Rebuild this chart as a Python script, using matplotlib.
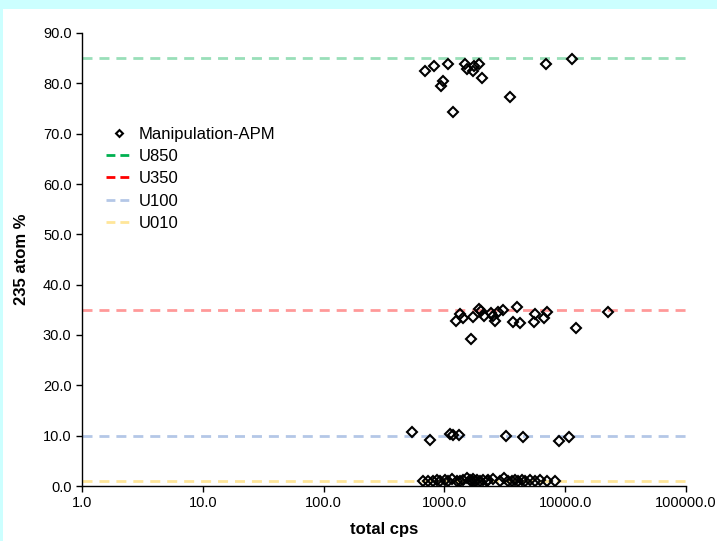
import numpy as np
import matplotlib.pyplot as plt
from matplotlib.lines import Line2D
from matplotlib.patches import Rectangle
from matplotlib.ticker import FixedLocator, FuncFormatter, NullLocator

plt.rcParams['font.family'] = ['Liberation Sans', 'DejaVu Sans']

# measured points: total cps vs 235 atom %
cps_850 = [691, 825, 1077, 979, 943, 1172, 1482, 1549, 1716, 1758, 1944, 2061,
           3493, 6900, 11320]
pct_850 = [82.5, 83.4, 83.9, 80.5, 79.5, 74.4, 83.9, 82.9, 82.5, 83.4, 83.8, 81.1,
           77.2, 83.8, 84.8]

cps_350 = [1247, 1346, 1418, 1651, 1716, 1933, 2020, 2126, 2417, 2510, 2624, 2763,
           3039, 3718, 4014, 4200, 5550, 5623, 6678, 7030, 12280, 22490]
pct_350 = [32.8, 34.1, 33.3, 29.3, 33.5, 35.2, 34.8, 33.8, 34.3, 33.8, 32.8, 34.6,
           35.0, 32.6, 35.6, 32.3, 32.5, 34.1, 33.3, 34.5, 31.3, 34.6]

cps_100 = [542, 760, 1106, 1172, 1322, 3213, 4477, 8935, 10810]
pct_100 = [10.8, 9.1, 10.3, 10.1, 10.1, 9.9, 9.7, 8.9, 9.8]

cps_010 = [669, 736, 809, 863, 920, 1012, 1077, 1150, 1265, 1346, 1433, 1530,
           1629, 1690, 1734, 1790, 1851, 1971, 2099, 2239, 2308, 2540, 2887, 3131,
           3380, 3606, 3840, 4090, 4366, 4650, 5112, 5623, 6185, 7030, 8240]
pct_010 = [1.0, 1.0, 1.0, 1.1, 1.0, 1.1, 1.0, 1.4, 0.9, 1.0, 1.1, 1.5,
           1.2, 1.0, 1.3, 0.9, 1.1, 1.0, 1.2, 1.0, 1.1, 1.4, 1.0, 1.6,
           1.0, 0.9, 1.1, 1.0, 1.2, 1.0, 1.1, 1.0, 1.2, 1.0, 1.0]

ref_names = ['U850', 'U350', 'U100', 'U010']
ref_values = [85.0, 35.0, 10.0, 1.0]
ref_colors = ['#00B050', '#FF0000', '#B4C7E7', '#FFE699']
ref_alpha = [0.4, 0.4, 1.0, 1.0]

cps = cps_850 + cps_350 + cps_100 + cps_010
pct = pct_850 + pct_350 + pct_100 + pct_010

fig = plt.figure(figsize=(7.17, 5.41), dpi=100, facecolor='#CCFFFF')
fig.patches.append(Rectangle((3 / 717, 0), 1, (541 - 9) / 541, transform=fig.transFigure,
                             facecolor='white', edgecolor='none', zorder=-1))
ax = fig.add_axes([82 / 717, 55 / 541, 604 / 717, 453 / 541])
ax.set_facecolor('none')

for name, v, c, a in zip(ref_names, ref_values, ref_colors, ref_alpha):
    ax.axhline(v, color=c, alpha=a, lw=2, dashes=(3.6, 2.5), zorder=1)

ax.plot(cps, pct, linestyle='none', marker='D', ms=5, mfc='none', mec='black',
        mew=1.5, zorder=3)

ax.set_xscale('log')
ax.set_xlim(1, 100000)
ax.set_ylim(0, 90)
ax.xaxis.set_major_locator(FixedLocator([1, 10, 100, 1000, 10000, 100000]))
ax.xaxis.set_minor_locator(NullLocator())
ax.xaxis.set_major_formatter(FuncFormatter(lambda v, p: '%.1f' % v))
ax.set_yticks(np.arange(0, 91, 10))
ax.yaxis.set_major_formatter(FuncFormatter(lambda v, p: '%.1f' % v))
ax.tick_params(direction='out', length=4, width=1, labelsize=10.5, pad=3.5, colors='black')
ax.spines['top'].set_visible(False)
ax.spines['right'].set_visible(False)
for s in ['left', 'bottom']:
    ax.spines[s].set_color('black')
    ax.spines[s].set_linewidth(1)

ax.set_xlabel('total cps', fontsize=12, fontweight='bold', labelpad=8)
ax.set_ylabel('235 atom %', fontsize=12, fontweight='bold', labelpad=10)

handles = [Line2D([], [], linestyle='none', marker='D', ms=3.5, mfc='none',
                  mec='black', mew=1.5)]
for c in ref_colors:
    handles.append(Line2D([], [], color=c, lw=2, dashes=(3.2, 1.8)))
ax.legend(handles, ['Manipulation-APM'] + ref_names, loc='upper left',
          bbox_to_anchor=(0.028, 0.808), frameon=False, fontsize=12,
          handlelength=1.6, handletextpad=0.4, labelspacing=0.44, borderaxespad=0)

fig.savefig('out.png', dpi=100, facecolor=fig.get_facecolor())
